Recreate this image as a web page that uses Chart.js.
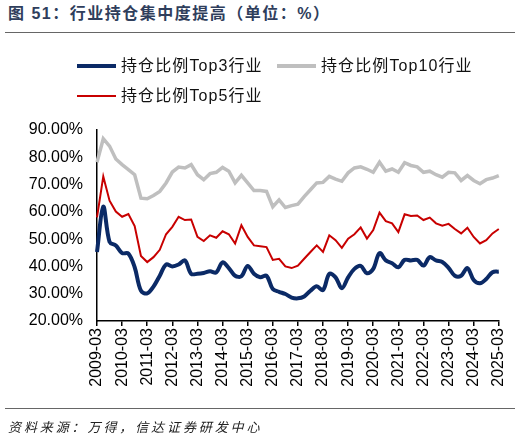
<!DOCTYPE html>
<html>
<head>
<meta charset="utf-8">
<script src="https://cdn.jsdelivr.net/npm/chart.js@4.4.1/dist/chart.umd.min.js"></script>
<style>
  html, body { margin:0; padding:0; background:#fff; }
  body { width:520px; height:441px; position:relative; overflow:hidden; font-family:"Liberation Sans","Noto Sans CJK SC",sans-serif; }
  #title { position:absolute; left:8px; top:4px; font-size:16px; font-weight:bold; color:#2F3E5C; letter-spacing:1.5px; line-height:20px; white-space:nowrap; font-family:"Liberation Sans","Noto Sans CJK SC",sans-serif; }
  .rule { position:absolute; left:5px; width:510px; height:0; border-top:1.5px solid #666; }
  #wrap { position:absolute; left:0; top:0; width:520px; height:441px; }
  .lg-line { position:absolute; }
  .lg-text { position:absolute; font-size:16px; line-height:20px; color:#111; letter-spacing:1.1px; white-space:nowrap; }
  #source { position:absolute; left:8px; top:418px; font-size:13px; line-height:18px; font-style:italic; color:#222; letter-spacing:2.9px; white-space:nowrap; font-family:"Noto Sans CJK SC",sans-serif; }
</style>
</head>
<body>
<div id="title">图 51：行业持仓集中度提高（单位：%）</div>
<div class="rule" style="top:32px"></div>
<div id="wrap"><canvas id="c"></canvas></div>
<div id="legend"></div>
<div class="rule" style="top:408px"></div>
<div id="source">资料来源：万得，信达证券研发中心</div>
<script>
// ---- data ----
const years = [2009,2010,2011,2012,2013,2014,2015,2016,2017,2018,2019,2020,2021,2022,2023,2024,2025];
const quarterMonths = ['03','06','09','12'];
const seriesNames = ['持仓比例Top3行业','持仓比例Top10行业','持仓比例Top5行业'];
const top3 = [45.3,61.9,49.0,47.7,44.9,44.7,39.7,31.1,30.1,32.6,36.6,40.7,40.0,40.7,42.2,37.3,
  37.3,37.6,38.2,37.8,41.5,39.4,36.6,36.4,40.2,37.3,36.0,36.6,31.7,30.7,29.9,28.6,
  28.3,29.0,31.1,32.7,31.3,37.3,36.0,32.0,36.0,39.1,40.2,37.5,39.1,44.9,42.2,41.2,
  39.7,42.4,42.2,42.4,40.3,43.4,42.2,41.6,39.5,36.6,36.6,39.4,35.0,33.8,35.4,37.9,38.1];
const top10 = [78.2,86.8,84.1,79.4,77.3,75.5,73.6,65.0,64.8,66.0,67.5,70.6,74.6,76.4,76.1,77.3,
  73.6,71.8,74.0,74.5,76.3,74.9,70.6,73.4,70.6,67.8,67.8,67.5,61.9,64.4,61.6,62.3,
  62.8,65.6,68.1,70.6,70.8,73.0,72.0,71.2,74.3,76.1,76.5,75.6,74.5,78.2,74.9,75.7,
  74.5,78.0,77.0,76.5,74.5,74.9,73.6,72.7,74.5,74.3,71.5,73.3,71.5,70.3,71.8,72.4,73.3];
const top5 = [58.0,73.0,64.1,60.1,58.2,59.2,54.8,43.8,41.6,43.4,46.1,51.8,54.5,58.2,57.0,57.2,
  50.8,49.3,51.4,50.5,52.9,51.8,48.4,55.1,50.8,47.7,47.4,47.1,42.4,42.8,40.0,39.4,
  40.3,42.8,45.3,47.7,45.3,51.4,49.6,46.8,50.2,51.8,54.3,50.2,53.3,59.7,56.6,55.8,
  52.6,59.1,58.5,58.7,57.0,57.9,55.8,54.9,55.6,53.7,52.1,54.2,50.8,48.4,49.6,52.1,53.7];
const yTicks = [20,30,40,50,60,70,80,90];

// ---- build ----
const labels = [];
years.forEach(y => quarterMonths.forEach(m => labels.push(y + '-' + m)));
labels.length = top3.length;

const colors = ['#0B2A66','#BFBFBF','#C80000'];
const widths = [4, 3.5, 2];

// HTML legend
const legend = document.getElementById('legend');
const lgPos = [{x:77,y:66},{x:277,y:66},{x:77,y:96}];
seriesNames.forEach((n,i) => {
  const l = document.createElement('div');
  l.className = 'lg-line';
  l.style.left = lgPos[i].x + 'px';
  l.style.width = '39px';
  l.style.top = (lgPos[i].y - widths[i]/2) + 'px';
  l.style.height = widths[i] + 'px';
  l.style.background = colors[i];
  legend.appendChild(l);
  const t = document.createElement('div');
  t.className = 'lg-text';
  t.style.left = (lgPos[i].x + 44) + 'px';
  t.style.top = (lgPos[i].y - 10) + 'px';
  t.textContent = n;
  legend.appendChild(t);
});

const seriesData = [top3, top10, top5];
new Chart(document.getElementById('c'), {
  type: 'line',
  data: {
    labels: labels,
    datasets: seriesData.map((d,i) => ({
      label: seriesNames[i],
      data: d,
      borderColor: colors[i],
      backgroundColor: colors[i],
      borderWidth: widths[i],
      pointRadius: 0,
      tension: i === 0 ? 0.35 : 0,
      fill: false
    }))
  },
  options: {
    responsive: true,
    maintainAspectRatio: false,
    animation: false,
    layout: { padding: { top: 130, right: 15, left: 0, bottom: 0 } },
    plugins: { legend: { display: false }, title: { display: false }, tooltip: { enabled: false } },
    scales: {
      x: {
        type: 'category',
        offset: false,
        afterFit: s => { s.height = 120; },
        border: { display: true, color: '#000', width: 1.5 },
        grid: { drawOnChartArea: false, drawTicks: true, tickLength: 5, color: '#000', lineWidth: 1.5 },
        ticks: {
          autoSkip: false,
          minRotation: 90, maxRotation: 90,
          padding: 2,
          color: '#000',
          font: { size: 16, family: '"Liberation Sans", Arial, sans-serif' },
          callback: function(v, idx) { return idx % 4 === 0 ? labels[idx] : null; }
        }
      },
      y: {
        min: yTicks[0], max: yTicks[yTicks.length-1],
        afterFit: s => { s.width = 97; },
        afterBuildTicks: s => { s.ticks = yTicks.map(v => ({value: v})); },
        border: { display: true, color: '#000', width: 1.5 },
        grid: { display: false, drawTicks: false },
        ticks: {
          padding: 14,
          color: '#000',
          font: { size: 16, family: '"Liberation Sans", Arial, sans-serif' },
          callback: v => v.toFixed(2) + '%'
        }
      }
    }
  }
});
</script>
</body>
</html>
